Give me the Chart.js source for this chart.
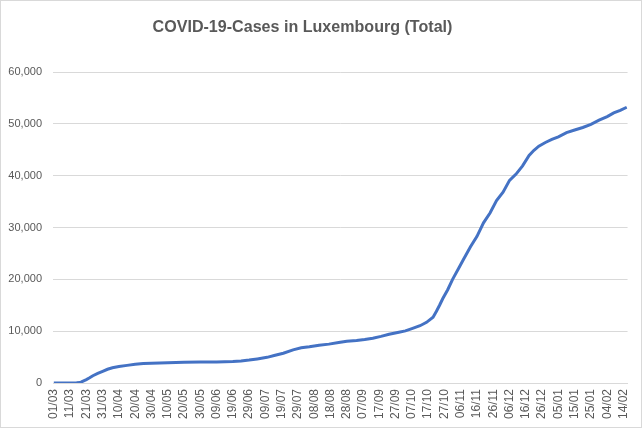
<!DOCTYPE html>
<html>
<head>
<meta charset="utf-8">
<script src="https://cdn.jsdelivr.net/npm/chart.js@4.4.1/dist/chart.umd.min.js"></script>
<style>
  html, body { margin: 0; padding: 0; background: #ffffff; }
  #wrap { position: relative; width: 644px; height: 429px; }
</style>
</head>
<body>
<div id="wrap"><canvas id="c"></canvas></div>
<script>
const chartTitle = "COVID-19-Cases in Luxembourg (Total)";

// day index counted from 01/03/2020
const days = [0, 14, 16, 17, 18, 20, 22, 24, 27, 30, 33, 36, 40, 45, 50, 55, 60, 70, 80, 90, 100,
  110, 115, 120, 125, 131, 136, 141, 147, 152, 157, 163, 169, 175, 180, 186, 191, 196, 201, 206,
  212, 216, 220, 225, 229, 233, 235, 237, 239, 242, 245, 249, 252, 256, 260, 264, 268, 272, 276,
  280, 284, 288, 292, 295, 298, 302, 306, 310, 315, 320, 325, 330, 335, 340, 344, 348, 352];

const cases = [0, 40, 80, 200, 350, 650, 1000, 1400, 1850, 2250, 2650, 2950, 3200, 3400, 3600, 3750, 3820, 3930, 4000, 4030, 4070,
  4130, 4250, 4430, 4650, 4950, 5350, 5750, 6400, 6800, 7000, 7300, 7500, 7800, 8050, 8200, 8400, 8650, 9000, 9400,
  9800, 10050, 10500, 11050, 11700, 12700, 13800, 15000, 16300, 18000, 20000, 22300, 24000, 26300, 28300, 30900, 32800, 35200, 36800,
  39100, 40300, 41900, 43900, 44900, 45700, 46400, 47000, 47500, 48300, 48800, 49300, 49900, 50700, 51400, 52100, 52600, 53200];

const xTickDays = [0, 10, 20, 30, 40, 50, 60, 70, 80, 90, 100, 110, 120, 130, 140, 150, 160, 170,
  180, 190, 200, 210, 220, 230, 240, 250, 260, 270, 280, 290, 300, 310, 320, 330, 340, 350];
const xTickLabels = ["01/03", "11/03", "21/03", "31/03", "10/04", "20/04", "30/04", "10/05", "20/05",
  "30/05", "09/06", "19/06", "29/06", "09/07", "19/07", "29/07", "08/08", "18/08", "28/08", "07/09",
  "17/09", "27/09", "07/10", "17/10", "27/10", "06/11", "16/11", "26/11", "06/12", "16/12", "26/12",
  "05/01", "15/01", "25/01", "04/02", "14/02"];

const yTicks = [0, 10000, 20000, 30000, 40000, 50000, 60000];

const points = days.map((d, i) => ({ x: d, y: cases[i] }));

const decor = {
  id: 'decor',
  afterDraw(chart) {
    const ctx = chart.ctx;
    ctx.save();
    // outer border
    ctx.strokeStyle = '#d9d9d9';
    ctx.lineWidth = 1;
    ctx.strokeRect(0.5, 0.5, 641, 427);
    // title
    let size = 19;
    ctx.font = 'bold ' + size + 'px "Liberation Sans", Arial, sans-serif';
    const w = ctx.measureText(chartTitle).width;
    size = size * 300 / w;
    ctx.font = 'bold ' + size.toFixed(2) + 'px "Liberation Sans", Arial, sans-serif';
    ctx.fillStyle = '#595959';
    ctx.textAlign = 'center';
    ctx.textBaseline = 'alphabetic';
    ctx.fillText(chartTitle, 302.5, 32);
    ctx.restore();
  }
};

Chart.defaults.font.family = '"Liberation Sans", Arial, sans-serif';
Chart.defaults.color = '#595959';

new Chart(document.getElementById('c'), {
  type: 'line',
  data: {
    datasets: [{
      label: 'Cases',
      data: points,
      borderColor: '#4472C4',
      backgroundColor: '#4472C4',
      borderWidth: 3,
      pointRadius: 0,
      tension: 0,
      fill: false
    }]
  },
  options: {
    responsive: true,
    maintainAspectRatio: false,
    animation: false,
    devicePixelRatio: 1,
    layout: { padding: { top: 72, right: 16, left: 0, bottom: 0 } },
    plugins: {
      legend: { display: false },
      title: { display: false },
      tooltip: { enabled: false }
    },
    scales: {
      x: {
        type: 'linear',
        min: -0.5,
        max: 352.5,
        afterBuildTicks(scale) { scale.ticks = xTickDays.map(v => ({ value: v })); },
        afterFit(scale) { scale.height = 46; },
        grid: { display: false, drawTicks: false },
        border: { display: true, color: '#d9d9d9', width: 1 },
        ticks: {
          autoSkip: false,
          maxRotation: 90,
          minRotation: 90,
          padding: 6,
          font: { size: 12 },
          color: '#595959',
          callback(v) { const i = xTickDays.indexOf(v); return i >= 0 ? xTickLabels[i] : ''; }
        }
      },
      y: {
        min: 0,
        max: 60000,
        afterBuildTicks(scale) { scale.ticks = yTicks.map(v => ({ value: v })); },
        afterFit(scale) { scale.width = 53; },
        grid: { color: '#d9d9d9', lineWidth: 1, drawTicks: false },
        border: { display: false },
        ticks: {
          padding: 11,
          font: { size: 11 },
          color: '#595959',
          callback(v) { return v.toLocaleString('en-US'); }
        }
      }
    }
  },
  plugins: [decor]
});
</script>
</body>
</html>
